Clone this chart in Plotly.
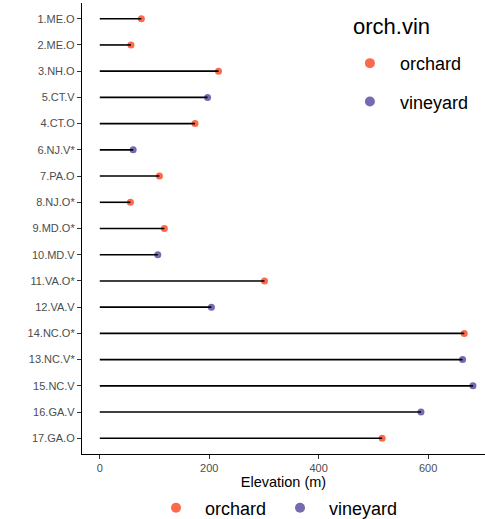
import plotly.graph_objects as go

# Site labels, top to bottom, with elevation (m) and site type
sites = ["1.ME.O", "2.ME.O", "3.NH.O", "5.CT.V", "4.CT.O", "6.NJ.V*", "7.PA.O",
         "8.NJ.O*", "9.MD.O*", "10.MD.V", "11.VA.O*", "12.VA.V", "14.NC.O*",
         "13.NC.V*", "15.NC.V", "16.GA.V", "17.GA.O"]
elevation = [76, 57, 217, 197, 174, 61, 109, 56, 118, 106, 301, 204, 666,
             663, 682, 587, 516]
site_type = ["orchard", "orchard", "orchard", "vineyard", "orchard", "vineyard",
             "orchard", "orchard", "orchard", "vineyard", "orchard", "vineyard",
             "orchard", "vineyard", "vineyard", "vineyard", "orchard"]
x_ticks = [0, 200, 400, 600]

colors = {"orchard": "#FB6A4A", "vineyard": "#756BB1"}
FONT = "Liberation Sans, Arial, sans-serif"

fig = go.Figure()

# Points per site type
for t in ["orchard", "vineyard"]:
    xs = [e for e, s in zip(elevation, site_type) if s == t]
    ys = [n for n, s in zip(sites, site_type) if s == t]
    fig.add_trace(go.Scatter(x=xs, y=ys, mode="markers",
                             marker=dict(color=colors[t], size=7),
                             showlegend=False, hoverinfo="skip"))

# Lollipop stems from 0 to each elevation
seg_x, seg_y = [], []
for n, e in zip(sites, elevation):
    seg_x += [0, e, None]
    seg_y += [n, n, None]
fig.add_trace(go.Scatter(x=seg_x, y=seg_y, mode="lines",
                         line=dict(color="black", width=1.6),
                         showlegend=False, hoverinfo="skip"))

# Legend entries (right-hand legend and bottom legend)
for t in ["orchard", "vineyard"]:
    fig.add_trace(go.Scatter(x=[None], y=[None], mode="markers", name=t,
                             marker=dict(color=colors[t], size=10),
                             legend="legend", legendgroup="a" + t))
    fig.add_trace(go.Scatter(x=[None], y=[None], mode="markers", name=t,
                             marker=dict(color=colors[t], size=10),
                             legend="legend2"))

fig.update_layout(
    width=485, height=519,
    margin=dict(l=82, r=0, t=3, b=65, autoexpand=False),
    plot_bgcolor="white", paper_bgcolor="white",
    font=dict(family=FONT, color="black"),
    legend=dict(font=dict(size=18, color="black"),
                x=0.64, xanchor="left", y=0.907, yanchor="top",
                itemwidth=50, tracegroupgap=12, bgcolor="rgba(0,0,0,0)"),
    legend2=dict(orientation="h", font=dict(size=18, color="black"),
                 xref="container", yref="container",
                 x=0.567, xanchor="center", y=0.021, yanchor="middle",
                 itemwidth=48, bgcolor="rgba(0,0,0,0)"),
    annotations=[dict(text="orch.vin", xref="paper", yref="paper",
                      x=0.667, y=0.949, xanchor="left", yanchor="middle",
                      showarrow=False, font=dict(size=22, color="black"))],
    xaxis=dict(range=[-32.5, 704], tickvals=x_ticks, ticks="outside",
               ticklen=4, tickcolor="#333333", tickwidth=1,
               showline=True, linecolor="black", linewidth=1.2,
               showgrid=False, zeroline=False, automargin=False,
               tickfont=dict(size=11, color="#4D4D4D", family=FONT),
               title=dict(text="Elevation (m)", font=dict(size=14.5, color="black"),
                          standoff=4)),
    yaxis=dict(type="category", categoryorder="array", categoryarray=sites,
               range=[len(sites) - 0.4, -0.6], ticks="outside", ticklen=4,
               tickcolor="#333333", tickwidth=1, automargin=False,
               showline=True, linecolor="black", linewidth=1.2,
               showgrid=False, zeroline=False,
               tickfont=dict(size=11, color="#4D4D4D", family=FONT)),
)

fig.write_html("out.html")
